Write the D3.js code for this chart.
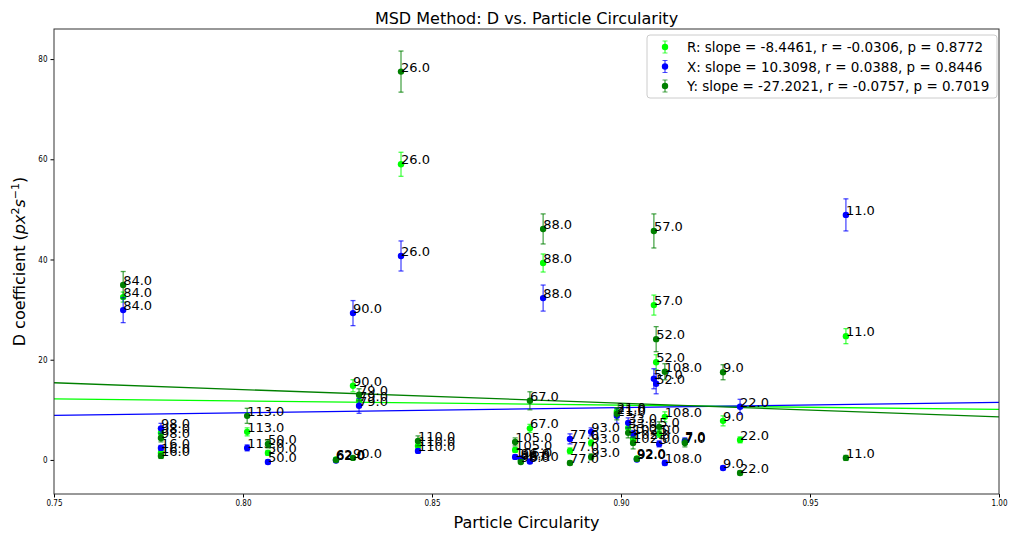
<!DOCTYPE html>
<html>
<head>
<meta charset="utf-8">
<script src="https://cdn.jsdelivr.net/npm/d3@7"></script>
<style>
  body { margin: 0; background: #fff; }
  svg { font-family: "DejaVu Sans", sans-serif; }
</style>
</head>
<body>
<div id="chart"></div>
<script>
// particle ids and circularity
const ids  = [84, 98, 16, 113, 50, 62, 90, 79, 26, 110, 105, 96, 67, 88, 77, 93, 21, 33, 102, 92, 5, 57, 52, 108, 7, 9, 22, 11];
const circ = [0.7683, 0.7783, 0.7783, 0.8011, 0.8066, 0.8246, 0.8291, 0.8307, 0.8418, 0.8463, 0.8720, 0.8735, 0.8759, 0.8794,
              0.8865, 0.8921, 0.8989, 0.9019, 0.9032, 0.9042, 0.9101, 0.9087, 0.9093, 0.9116, 0.9169, 0.9270, 0.9315, 0.9595];
// D coefficients per direction
const rVals = [32.5, 5.4, 1.4, 5.6, 1.4, 0.1, 14.8, 11.8, 59.0, 2.8, 2.0, 0.0, 6.3, 39.3, 1.8, 3.4, 9.6, 6.4, 4.2, 0.3, 5.2, 30.9, 19.5, 8.6, 3.6, 7.8, 4.0, 24.7];
const xVals = [29.9, 6.3, 2.4, 2.4, -0.4, -0.1, 29.3, 10.8, 40.7, 1.8, 0.6, 0.3, -0.3, 32.3, 4.2, 5.6, 8.8, 7.4, 5.2, 0.1, 3.2, 16.2, 15.2, -0.6, 3.8, -1.6, 10.6, 48.9];
const yVals = [34.9, 4.4, 0.8, 8.8, 3.2, 0.0, 0.4, 13.0, 77.5, 3.8, 3.6, -0.4, 11.8, 46.1, -0.6, 0.6, 9.2, 5.4, 3.4, 0.2, 6.6, 45.7, 24.1, 17.6, 3.4, 17.5, -2.6, 0.4];
// standard errors
const rErr = [1.0, 0.6, 0.4, 0.8, 0.5, 0.2, 1.2, 0.8, 2.4, 0.6, 0.5, 0.3, 0.8, 1.8, 0.6, 0.6, 0.8, 0.7, 0.6, 0.3, 0.7, 2.0, 1.5, 1.0, 0.5, 1.0, 0.6, 1.5];
const xErr = [2.5, 1.0, 0.5, 0.6, 0.4, 0.2, 2.5, 1.5, 3.0, 0.4, 0.4, 0.3, 0.4, 2.6, 1.0, 0.8, 1.5, 1.0, 0.7, 0.3, 0.6, 2.0, 2.0, 0.5, 0.6, 0.4, 1.5, 3.2];
const yErr = [2.7, 0.8, 0.5, 1.5, 0.8, 0.2, 0.3, 1.2, 4.1, 1.0, 0.8, 0.3, 1.8, 3.0, 0.4, 0.6, 1.2, 1.0, 1.2, 0.3, 1.0, 3.4, 2.5, 1.6, 0.8, 1.5, 0.4, 0.5];
// regression fits
const seriesNames = ["R", "X", "Y"];
const slopes = [-8.4461, 10.3098, -27.2021];
const intercepts = [18.53, 1.17, 35.8];
const rCoef = [-0.0306, 0.0388, -0.0757];
const pVals = [0.8772, 0.8446, 0.7019];
const colors = ["#00ff00", "#0000ff", "#008000"];
const xTicks = [0.75, 0.80, 0.85, 0.90, 0.95, 1.00];
const yTicks = [0, 20, 40, 60, 80];

const W = 1009, H = 533;
const margin = { top: 29, right: 10, bottom: 39, left: 54 };
const iw = W - margin.left - margin.right;
const ih = H - margin.top - margin.bottom;

const svg = d3.select("#chart").append("svg").attr("width", W).attr("height", H);
const g = svg.append("g").attr("transform", `translate(${margin.left},${margin.top})`);

const x = d3.scaleLinear().domain([0.75, 1.0]).range([0, iw]);
const y = d3.scaleLinear().domain([-6.8, 86.0]).range([ih, 0]);

svg.append("clipPath").attr("id", "clip").append("rect").attr("width", iw).attr("height", ih);

// regression lines
const lines = g.append("g").attr("clip-path", "url(#clip)");
seriesNames.forEach((s, i) => {
    lines.append("line")
        .attr("x1", x(0.75)).attr("y1", y(slopes[i] * 0.75 + intercepts[i]))
        .attr("x2", x(1.0)).attr("y2", y(slopes[i] * 1.0 + intercepts[i]))
        .attr("stroke", colors[i]).attr("stroke-width", 1.3);
});

const series = [
    { vals: rVals, errs: rErr },
    { vals: xVals, errs: xErr },
    { vals: yVals, errs: yErr }
];

// error bars + points + labels
series.forEach((s, i) => {
    const grp = g.append("g");
    const data = ids.map((id, k) => ({ id, c: circ[k], v: s.vals[k], e: s.errs[k] }));
    const eb = grp.selectAll("g.eb").data(data).join("g").attr("class", "eb")
        .attr("stroke", colors[i]).attr("stroke-opacity", 0.7).attr("stroke-width", 1.3);
    eb.append("line")
        .attr("x1", d => x(d.c)).attr("x2", d => x(d.c))
        .attr("y1", d => y(d.v - d.e)).attr("y2", d => y(d.v + d.e));
    eb.append("line")
        .attr("x1", d => x(d.c) - 2.5).attr("x2", d => x(d.c) + 2.5)
        .attr("y1", d => y(d.v - d.e)).attr("y2", d => y(d.v - d.e));
    eb.append("line")
        .attr("x1", d => x(d.c) - 2.5).attr("x2", d => x(d.c) + 2.5)
        .attr("y1", d => y(d.v + d.e)).attr("y2", d => y(d.v + d.e));
    grp.selectAll("circle").data(data).join("circle")
        .attr("cx", d => x(d.c)).attr("cy", d => y(d.v)).attr("r", 3.2)
        .attr("fill", colors[i]);
    grp.selectAll("text").data(data).join("text")
        .attr("x", d => x(d.c)).attr("y", d => y(d.v))
        .attr("font-size", "13px").attr("fill", "#000")
        .text(d => d.id.toFixed(1));
});

// axes
const xAxis = g.append("g").attr("transform", `translate(0,${ih})`)
    .call(d3.axisBottom(x).tickValues(xTicks).tickFormat(d3.format(".2f")).tickSize(3.5).tickSizeOuter(0));
const yAxis = g.append("g")
    .call(d3.axisLeft(y).tickValues(yTicks).tickFormat(d3.format("d")).tickSize(3.5).tickSizeOuter(0));
[xAxis, yAxis].forEach(a => {
    a.select(".domain").remove();
    a.selectAll("line").attr("stroke", "#000");
    a.selectAll("text").attr("font-size", "8px").attr("fill", "#000").attr("font-family", "DejaVu Sans Condensed, DejaVu Sans");
});
// frame
g.append("rect").attr("width", iw).attr("height", ih).attr("fill", "none").attr("stroke", "#333").attr("stroke-width", 1);

// titles
svg.append("text").attr("x", margin.left + iw / 2).attr("y", 24)
    .attr("text-anchor", "middle").attr("font-size", "16px").text("MSD Method: D vs. Particle Circularity");
svg.append("text").attr("x", margin.left + iw / 2).attr("y", 528)
    .attr("text-anchor", "middle").attr("font-size", "16px").text("Particle Circularity");
const yl = svg.append("text")
    .attr("transform", `translate(25,${margin.top + ih / 2}) rotate(-90)`)
    .attr("text-anchor", "middle").attr("font-size", "16px");
yl.append("tspan").text("D coefficient (");
yl.append("tspan").attr("font-style", "italic").text("px");
yl.append("tspan").attr("font-size", "11px").attr("dy", -6).text("2");
yl.append("tspan").attr("font-style", "italic").attr("dy", 6).text("s");
yl.append("tspan").attr("font-size", "11px").attr("dy", -6).text("\u22121");
yl.append("tspan").attr("dy", 6).text(")");

// legend
const lg = svg.append("g").attr("transform", "translate(647,35)");
lg.append("rect").attr("width", 350).attr("height", 63).attr("rx", 3)
    .attr("fill", "#fff").attr("fill-opacity", 0.8).attr("stroke", "#ccc");
seriesNames.forEach((s, i) => {
    const row = lg.append("g").attr("transform", `translate(18,${12 + i * 19.5})`);
    row.append("line").attr("y1", -6).attr("y2", 6).attr("stroke", colors[i]).attr("stroke-opacity", 0.7).attr("stroke-width", 1.3);
    row.append("line").attr("x1", -2.5).attr("x2", 2.5).attr("y1", -6).attr("y2", -6).attr("stroke", colors[i]).attr("stroke-opacity", 0.7);
    row.append("line").attr("x1", -2.5).attr("x2", 2.5).attr("y1", 6).attr("y2", 6).attr("stroke", colors[i]).attr("stroke-opacity", 0.7);
    row.append("circle").attr("r", 3.2).attr("fill", colors[i]);
    row.append("text").attr("x", 22).attr("y", 5).attr("font-size", "13.5px")
        .text(`${s}: slope = ${slopes[i].toFixed(4)}, r = ${rCoef[i].toFixed(4)}, p = ${pVals[i].toFixed(4)}`);
});
</script>
</body>
</html>
